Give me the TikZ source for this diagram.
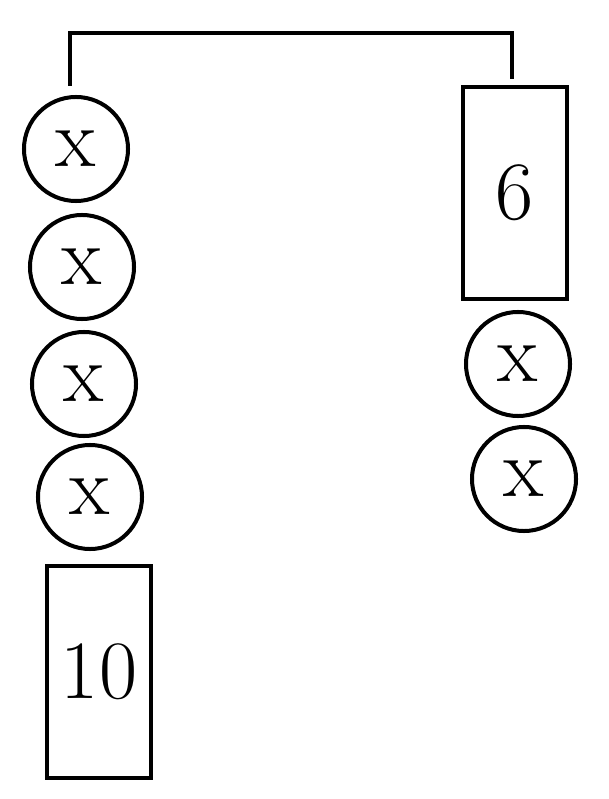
\documentclass[tikz,border=0pt]{standalone}
\usepackage{tikz}
\usetikzlibrary{positioning}
\begin{document}
\begin{tikzpicture}[x=0.025cm, y=-0.025cm, line width=0.1cm,
        bead/.style={draw, circle, minimum size=2.6cm, inner sep=0pt, font=\fontsize{59}{59}\selectfont},
        weight/.style={draw, rectangle, minimum width=2.6cm, minimum height=5.3cm, inner sep=0pt, font=\fontsize{59}{59}\selectfont}]
        \useasboundingbox (0,0) rectangle (609,799);
        \node[bead] (la) at (76,149) {x};
        \node[bead] (lb) at (82,267) {x};
        \node[bead] (lc) at (84,384) {x};
        \node[bead] (ld) at (90,497) {x};
        \node[weight] (ten) at (99,672) {10};
        \node[weight] (six) at (515,193) {6};
        \node[bead] (ra) at (518,364) {x};
        \node[bead] (rb) at (524,479) {x};
        \coordinate (bar) at (291,33);
        \draw ([shift={(-6,-9)}]la.north) |- (bar) -| ([shift={(-3,-6)}]six.north);
    \end{tikzpicture}
\end{document}
